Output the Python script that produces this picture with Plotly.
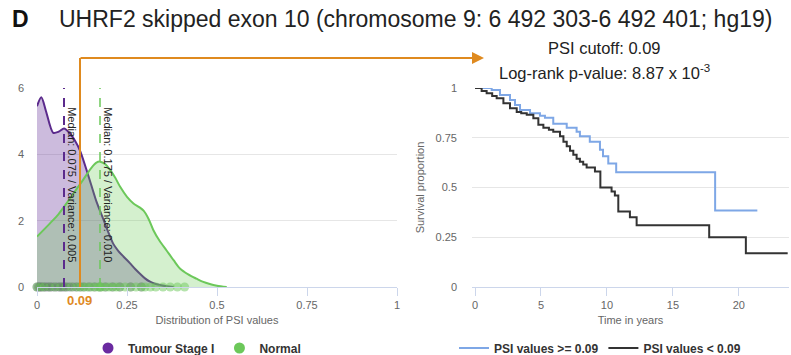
import plotly.graph_objects as go

# ---------------- data ----------------
# Density (PSI distribution) curves
tumour_x = [0.0, 0.012, 0.025, 0.045, 0.06, 0.075, 0.09, 0.106, 0.12, 0.137, 0.15, 0.166, 0.184,
            0.2, 0.212, 0.225, 0.24, 0.258, 0.272, 0.286, 0.3, 0.314, 0.33, 0.345, 0.36, 0.38]
tumour_y = [5.45, 5.72, 5.3, 4.65, 4.68, 4.78, 4.65, 4.4, 4.1, 3.55, 3.1, 2.55, 2.05,
            1.6, 1.3, 1.1, 0.92, 0.72, 0.55, 0.4, 0.26, 0.16, 0.09, 0.05, 0.02, 0.0]
normal_x = [0.0, 0.036, 0.06, 0.082, 0.105, 0.128, 0.15, 0.165, 0.175, 0.19, 0.203, 0.217, 0.231,
            0.25, 0.268, 0.285, 0.296, 0.31, 0.323, 0.34, 0.36, 0.38, 0.397, 0.42, 0.443, 0.46,
            0.48, 0.5, 0.527]
normal_y = [1.52, 1.92, 2.2, 2.52, 2.88, 3.23, 3.58, 3.75, 3.78, 3.7, 3.53, 3.3, 3.02,
            2.72, 2.52, 2.4, 2.3, 2.05, 1.72, 1.4, 1.1, 0.8, 0.56, 0.38, 0.25, 0.16,
            0.09, 0.04, 0.0]

# Individual PSI values (rug)
tumour_psi = [0.0, 0.004, 0.008, 0.012, 0.018, 0.024, 0.03, 0.036, 0.042, 0.05, 0.058, 0.064,
              0.07, 0.075, 0.082, 0.09, 0.1, 0.11, 0.12, 0.13, 0.145, 0.16, 0.175, 0.19,
              0.21, 0.23, 0.26, 0.29]
normal_psi = [0.0, 0.01, 0.02, 0.035, 0.05, 0.065, 0.08, 0.095, 0.11, 0.12, 0.13, 0.14, 0.15,
              0.16, 0.17, 0.175, 0.18, 0.19, 0.2, 0.21, 0.22, 0.23, 0.245, 0.26, 0.275, 0.29,
              0.3, 0.315, 0.33, 0.35, 0.37, 0.39, 0.41]

tumour_median, tumour_var = 0.075, 0.005
normal_median, normal_var = 0.175, 0.010
psi_cutoff = 0.09
pvalue_text = "8.87 x 10<sup>-3</sup>"

# Kaplan-Meier curves (time in years, survival proportion)
high_t = [0, 1.0, 1.26, 1.89, 2.65, 3.03, 3.41, 4.17, 4.92, 5.3, 5.93, 6.95, 7.7, 7.95, 8.7,
          9.47, 9.7, 10.1, 10.7, 18.2, 21.4]
high_s = [1.0, 1.0, 0.99, 0.965, 0.94, 0.915, 0.89, 0.873, 0.86, 0.85, 0.82, 0.80, 0.78, 0.757,
          0.73, 0.69, 0.657, 0.62, 0.577, 0.385, 0.385]
low_t = [0, 0.5, 0.88, 1.3, 1.64, 2.15, 2.65, 3.16, 3.5, 3.92, 4.42, 4.8, 5.18, 5.6, 5.93, 6.44,
         6.7, 6.95, 7.2, 7.45, 7.7, 7.95, 8.2, 8.46, 9.09, 9.5, 10.35, 10.6, 10.86, 11.74, 12.25,
         17.75, 20.53, 23.7]
low_s = [1.0, 0.985, 0.973, 0.96, 0.948, 0.923, 0.898, 0.88, 0.873, 0.865, 0.848, 0.815, 0.80,
         0.79, 0.78, 0.757, 0.73, 0.707, 0.685, 0.665, 0.645, 0.63, 0.615, 0.60, 0.58, 0.50,
         0.48, 0.46, 0.38, 0.35, 0.31, 0.25, 0.17, 0.17]

x_ticks_left = [0, 0.25, 0.5, 0.75, 1]
x_ticks_right = [0, 5, 10, 15, 20]

# ---------------- style ----------------
PURPLE = "#5b2a8c"
PURPLE_LEG = "#6a2aa0"
GREEN = "#6cc85a"
BLUE = "#7ea7e6"
BLACK = "#333333"
ORANGE = "#df8a1f"
FONT = "Liberation Sans"
W, H = 791, 355

fig = go.Figure()

# densities
fig.add_trace(go.Scatter(x=tumour_x, y=tumour_y, mode="lines", line=dict(color=PURPLE, width=2, shape="spline", smoothing=0.8),
                         fill="tozeroy", fillcolor="rgba(95,45,150,0.32)", showlegend=False,
                         xaxis="x", yaxis="y", hoverinfo="skip"))
fig.add_trace(go.Scatter(x=normal_x, y=normal_y, mode="lines", line=dict(color=GREEN, width=2, shape="spline", smoothing=0.8),
                         fill="tozeroy", fillcolor="rgba(100,200,80,0.28)", showlegend=False,
                         xaxis="x", yaxis="y", hoverinfo="skip"))
# rugs
fig.add_trace(go.Scatter(x=tumour_psi, y=[0] * len(tumour_psi), mode="markers",
                         marker=dict(color="rgba(80,50,110,0.35)", size=9), showlegend=False,
                         xaxis="x", yaxis="y", cliponaxis=False))
fig.add_trace(go.Scatter(x=normal_psi, y=[0] * len(normal_psi), mode="markers",
                         marker=dict(color="rgba(108,200,90,0.5)", size=9), showlegend=False,
                         xaxis="x", yaxis="y", cliponaxis=False))
# legend entries (left)
fig.add_trace(go.Scatter(x=[None], y=[None], mode="markers", name="Tumour Stage I",
                         marker=dict(color=PURPLE_LEG, size=11), legend="legend", xaxis="x", yaxis="y"))
fig.add_trace(go.Scatter(x=[None], y=[None], mode="markers", name="Normal",
                         marker=dict(color=GREEN, size=11), legend="legend", xaxis="x", yaxis="y"))

# survival
fig.add_trace(go.Scatter(x=high_t, y=high_s, mode="lines", line=dict(color=BLUE, width=2, shape="hv"),
                         name=f"PSI values >= {psi_cutoff}", legend="legend2", xaxis="x2", yaxis="y2"))
fig.add_trace(go.Scatter(x=low_t, y=low_s, mode="lines", line=dict(color=BLACK, width=2, shape="hv"),
                         name=f"PSI values < {psi_cutoff}", legend="legend2", xaxis="x2", yaxis="y2"))

# median lines
shapes = [
    dict(type="line", xref="x", yref="y", x0=tumour_median, x1=tumour_median, y0=0, y1=6,
         line=dict(color=PURPLE, width=2, dash="dash")),
    dict(type="line", xref="x", yref="y", x0=normal_median, x1=normal_median, y0=0, y1=6,
         line=dict(color=GREEN, width=1.5, dash="dash")),
    # orange cutoff overlay
    dict(type="line", xref="paper", yref="paper", x0=80 / W, x1=80 / W, y0=1 - 287 / H, y1=1 - 58 / H,
         line=dict(color=ORANGE, width=2)),
]

ydom = [1 - 287 / H, 1 - 88 / H]
tickfont = dict(family=FONT, size=11, color="#666666")

annotations = [
    dict(x=tumour_median, y=3.1, xref="x", yref="y", text=f"Median: {tumour_median} / Variance: {tumour_var:.3f}",
         textangle=90, showarrow=False, xanchor="left", yanchor="middle", xshift=0,
         font=dict(family=FONT, size=11, color="#222222")),
    dict(x=normal_median, y=3.1, xref="x", yref="y", text=f"Median: {normal_median} / Variance: {normal_var:.3f}",
         textangle=90, showarrow=False, xanchor="left", yanchor="middle", xshift=0,
         font=dict(family=FONT, size=11, color="#222222")),
    dict(x=10 / W, y=1 - 19 / H, xref="paper", yref="paper", text="<b>D</b>", showarrow=False,
         xanchor="left", yanchor="middle", font=dict(family=FONT, size=23, color="#111111")),
    dict(x=57 / W, y=1 - 19 / H, xref="paper", yref="paper",
         text="UHRF2 skipped exon 10 (chromosome 9: 6 492 303-6 492 401; hg19)", showarrow=False,
         xanchor="left", yanchor="middle", font=dict(family=FONT, size=23, color="#222222")),
    dict(x=604 / W, y=1 - 48 / H, xref="paper", yref="paper", text=f"PSI cutoff: {psi_cutoff}",
         showarrow=False, xanchor="center", yanchor="middle", font=dict(family=FONT, size=16.5, color="#222222")),
    dict(x=604 / W, y=1 - 72 / H, xref="paper", yref="paper", text=f"Log-rank p-value: {pvalue_text}",
         showarrow=False, xanchor="center", yanchor="middle", font=dict(family=FONT, size=16.5, color="#222222")),
    dict(x=79 / W, y=1 - 300 / H, xref="paper", yref="paper", text=f"<b>{psi_cutoff}</b>",
         showarrow=False, xanchor="center", yanchor="middle", font=dict(family=FONT, size=13, color=ORANGE)),
    # horizontal arrow of the overlay
    dict(x=484 / W, y=1 - 58 / H, xref="paper", yref="paper", text="", showarrow=True,
         ax=-(484 - 79), ay=0, axref="pixel", ayref="pixel", arrowhead=2, arrowsize=1.2, arrowwidth=2,
         arrowcolor=ORANGE, standoff=0),
]

fig.update_layout(
    width=W, height=H, margin=dict(l=0, r=0, t=0, b=0, autoexpand=False),
    paper_bgcolor="white", plot_bgcolor="white",
    font=dict(family=FONT, color="#333333"),
    xaxis=dict(domain=[37 / W, 397 / W], range=[0, 1], tickvals=x_ticks_left,
               ticktext=[str(v) for v in x_ticks_left], showgrid=False, zeroline=False,
               showline=True, linecolor="#ccd6eb", linewidth=1, ticks="outside", ticklen=8,
               tickcolor="#ccd6eb", tickfont=tickfont, anchor="y",
               title=dict(text="Distribution of PSI values", font=dict(family=FONT, size=11, color="#666666"),
                          standoff=6)),
    yaxis=dict(domain=ydom, range=[0, 6], tickvals=[0, 2, 4, 6], showgrid=True, gridcolor="#e6e6e6",
               zeroline=False, showline=False, tickfont=tickfont, ticklabelstandoff=12, anchor="x"),
    xaxis2=dict(domain=[472 / W, 789 / W], range=[-0.23, 23.8], tickvals=x_ticks_right,
                showgrid=False, zeroline=False, showline=True, linecolor="#ccd6eb", linewidth=1,
                ticks="outside", ticklen=8, tickcolor="#ccd6eb", tickfont=tickfont, anchor="y2",
                title=dict(text="Time in years", font=dict(family=FONT, size=11, color="#666666"), standoff=6)),
    yaxis2=dict(domain=ydom, range=[0, 1], tickvals=[0, 0.25, 0.5, 0.75, 1], showgrid=True,
                gridcolor="#e6e6e6", zeroline=False, showline=False, tickfont=tickfont,
                ticklabelstandoff=14, anchor="x2",
                title=dict(text="Survival proportion", font=dict(family=FONT, size=11, color="#666666"),
                           standoff=8)),
    legend=dict(orientation="h", x=197 / W, y=1 - 348 / H, xanchor="center", yanchor="middle",
                font=dict(family=FONT, size=12, color="#333333", weight="bold"), bgcolor="rgba(0,0,0,0)",
                itemwidth=30, tracegroupgap=0),
    legend2=dict(orientation="h", x=600 / W, y=1 - 348 / H, xanchor="center", yanchor="middle",
                 font=dict(family=FONT, size=12, color="#333333", weight="bold"), bgcolor="rgba(0,0,0,0)",
                 itemwidth=30),
    shapes=shapes,
    annotations=annotations,
    showlegend=True,
)

fig.write_html("out.html")
